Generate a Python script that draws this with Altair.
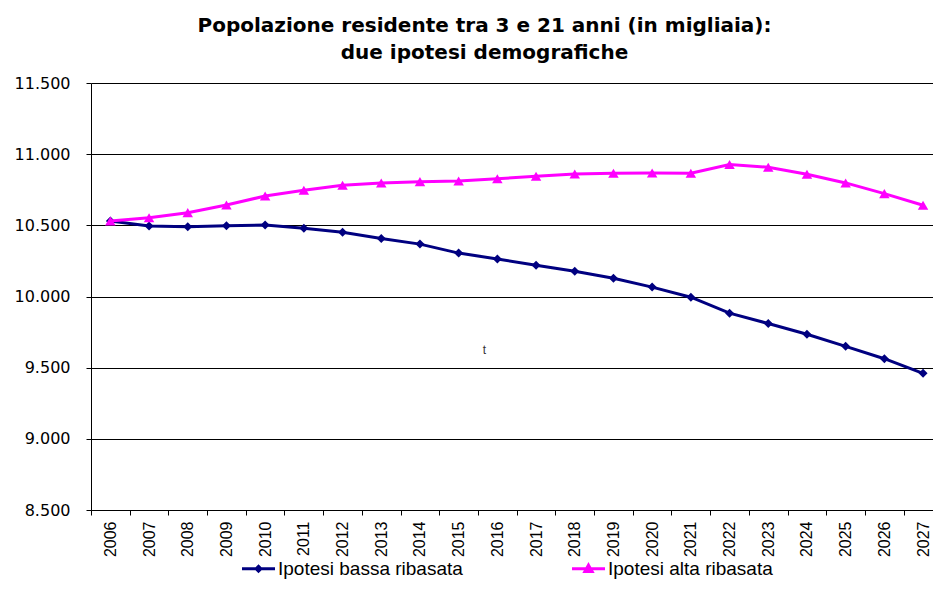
import altair as alt
import pandas as pd

years = list(range(2006, 2028))
bassa = [10530, 10495, 10490, 10497, 10502, 10479, 10451, 10408, 10368, 10305, 10264,
         10220, 10178, 10128, 10066, 9995, 9883, 9810, 9735, 9650, 9563, 9460]
alta = [10530, 10553, 10589, 10643, 10706, 10746, 10782, 10798, 10807, 10812, 10827,
        10845, 10861, 10866, 10868, 10866, 10927, 10908, 10859, 10798, 10723, 10641]
series_names = ["Ipotesi bassa ribasata", "Ipotesi alta ribasata"]
series_colors = ["#000080", "#FF00FF"]
y_ticks = [8500, 9000, 9500, 10000, 10500, 11000, 11500]
title_lines = ["Popolazione residente tra 3 e 21 anni (in migliaia):",
               "due ipotesi demografiche"]
note_text = ["t"]
note_year = [2016]
note_value = [9623]

FONT = "Liberation Sans"
PLOT_W = 842
STEP = 38.7
X_MIN = 2005.5
X_MAX = X_MIN + PLOT_W / STEP

rows = []
for name, vals in zip(series_names, [bassa, alta]):
    for yr, v in zip(years, vals):
        rows.append({"year": yr, "value": v, "series": name})
df = pd.DataFrame(rows)
note_df = pd.DataFrame({"year": note_year, "value": note_value, "label": note_text})

x_enc = alt.X(
    "year:Q",
    scale=alt.Scale(domain=[X_MIN, X_MAX], nice=False, zero=False),
    title=None,
    axis=alt.Axis(values=years, format="d", labelAngle=-90, labelFont=FONT, labelFontSize=16,
                  labelColor="black", tickOffset=-STEP / 2, labelOffset=STEP / 2,
                  labelFlush=False, labelOverlap=False, labelBound=False,
                  tickSize=5, tickColor="black", domainColor="black",
                  labelPadding=6, grid=False),
)
y_enc = alt.Y(
    "value:Q",
    scale=alt.Scale(domain=[8500, 11500], nice=False, zero=False),
    title=None,
    axis=alt.Axis(values=y_ticks,
                  labelExpr="replace(format(datum.value, ',.0f'), ',', '.')",
                  labelFont="DejaVu Sans", labelFontSize=16, labelColor="black",
                  tickSize=5, tickColor="black", domainColor="black",
                  gridColor="black", gridWidth=1, labelPadding=16),
)

base = alt.Chart(df)

def line_layer(i):
    return base.transform_filter(alt.datum.series == series_names[i]).mark_line(
        color=series_colors[i], strokeWidth=3).encode(x=x_enc, y=y_enc)

def point_layer(i, shape, size):
    return base.transform_filter(alt.datum.series == series_names[i]).mark_point(
        shape=shape, filled=True, color=series_colors[i], size=size, opacity=1).encode(x=x_enc, y=y_enc)

legend_paths = [
    "M-4.125,0H4.125M-0.6,0L0,-0.6L0.6,0L0,0.6Z",
    "M-4.125,0H4.125M0,-0.9L0.9,0.7L-0.9,0.7Z",
]
legend_def = alt.Legend(
    title=None, orient="none", legendX=158, legendY=476, direction="horizontal",
    columns=2, labelFont=FONT, labelFontSize=19, labelColor="black", labelLimit=400,
    symbolSize=64, symbolStrokeWidth=3, labelOffset=10, columnPadding=103, padding=0,
)
legend_layer = base.transform_filter("false").mark_point(filled=True, opacity=1).encode(
    x=x_enc, y=y_enc,
    fill=alt.Fill("series:N", scale=alt.Scale(domain=series_names, range=series_colors), legend=legend_def),
    stroke=alt.Stroke("series:N", scale=alt.Scale(domain=series_names, range=series_colors), legend=legend_def),
    shape=alt.Shape("series:N", scale=alt.Scale(domain=series_names, range=legend_paths), legend=legend_def),
)

note_layer = alt.Chart(note_df).mark_text(font=FONT, fontSize=12, color="#333333", dx=-13).encode(
    x=x_enc, y=y_enc, text="label:N")

chart = alt.layer(
    line_layer(0), point_layer(0, "diamond", 81),
    line_layer(1), point_layer(1, "triangle-up", 110),
    legend_layer, note_layer,
).properties(
    width=PLOT_W, height=427,
    autosize=alt.AutoSizeParams(type="none"),
    padding={"left": 83, "top": 75, "right": 0, "bottom": 70},
    background="white",
    title=alt.TitleParams(text=title_lines, font="DejaVu Sans", fontSize=20, fontWeight="bold",
                          color="black", anchor="middle", dx=-27.5, offset=12, lineHeight=27.5),
).configure_view(stroke=None)

chart.save("out.html", embed_options={"renderer": "svg", "actions": False})
